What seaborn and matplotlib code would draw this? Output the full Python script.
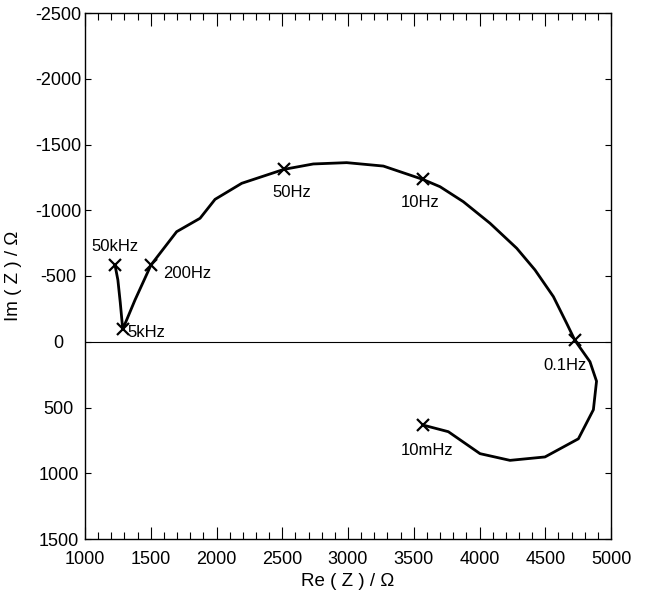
import matplotlib
matplotlib.use("Agg")
import matplotlib.pyplot as plt
import seaborn as sns
import pandas as pd
from matplotlib.ticker import MultipleLocator

# Impedance spectrum (Nyquist), from 50 kHz down to 10 mHz
re_z = [1228, 1250, 1268, 1287, 1380, 1502, 1697, 1875, 1989, 2192, 2513, 2736, 2990,
        3269, 3568, 3700, 3877, 4080, 4283, 4422, 4562, 4663, 4726, 4840, 4890,
        4866, 4752, 4498, 4232, 4004, 3763, 3568]
im_z = [-584, -470, -300, -95, -317, -584, -837, -939, -1083, -1205, -1311, -1352, -1362,
        -1336, -1235, -1179, -1065, -901, -711, -546, -343, -140, -10, 152, 300,
        517, 738, 876, 902, 851, 684, 633]

# Marked frequencies
mark_labels = ["50kHz", "5kHz", "200Hz", "50Hz", "10Hz", "0.1Hz", "10mHz"]
mark_re = [1228, 1287, 1502, 2513, 3568, 4726, 3568]
mark_im = [-584, -95, -584, -1311, -1235, -10, 633]

x_ticks = [1000, 1500, 2000, 2500, 3000, 3500, 4000, 4500, 5000]
y_ticks = [-2500, -2000, -1500, -1000, -500, 0, 500, 1000, 1500]

sns.set_style("ticks")
plt.rcParams["font.family"] = ["Liberation Sans", "DejaVu Sans"]
plt.rcParams["axes.unicode_minus"] = False
plt.rcParams["text.color"] = "black"
plt.rcParams["axes.labelcolor"] = "black"
plt.rcParams["xtick.color"] = "black"
plt.rcParams["ytick.color"] = "black"

fig = plt.figure(figsize=(6.47, 5.96), dpi=100)
ax = fig.add_axes([85 / 647, 1 - 539 / 596, 526 / 647, 526 / 596])

curve = pd.DataFrame({"re": re_z, "im": im_z})
marks = pd.DataFrame({"re": mark_re, "im": mark_im, "label": mark_labels})

ax.axhline(0, color="black", lw=0.8, zorder=1)
sns.lineplot(data=curve, x="re", y="im", sort=False, estimator=None,
             color="black", lw=2.0, ax=ax, zorder=3)
ax.plot(marks["re"], marks["im"], linestyle="none", marker="x",
        markersize=9, mew=1.6, color="black", zorder=4)

# label offsets in pixels (x right, y up), with alignment
offsets = {
    "50kHz": (0, 18, "center"),
    "5kHz": (5, -3, "left"),
    "200Hz": (12, -9, "left"),
    "50Hz": (8, -23, "center"),
    "10Hz": (-3, -23, "center"),
    "0.1Hz": (-10, -25, "center"),
    "10mHz": (4, -26, "center"),
}
for lab, xr, yi in zip(mark_labels, mark_re, mark_im):
    dx, dy, ha = offsets[lab]
    ax.annotate(lab, (xr, yi), xytext=(dx, dy), textcoords="offset pixels",
                ha=ha, va="center", fontsize=12, color="black")

ax.set_xlim(1000, 5000)
ax.set_ylim(1500, -2500)
ax.set_xticks(x_ticks)
ax.set_yticks(y_ticks)
ax.set_xticklabels([str(v) for v in x_ticks])
ax.set_yticklabels([str(v) for v in y_ticks])
ax.xaxis.set_minor_locator(MultipleLocator(100))

ax.tick_params(axis="x", which="major", direction="in", length=9, width=0.8,
               top=True, bottom=True, labelsize=13, pad=9)
ax.tick_params(axis="x", which="minor", direction="in", length=4.8, width=0.8,
               top=True, bottom=True)
ax.tick_params(axis="y", which="major", direction="in", length=4.5, width=0.8,
               left=True, right=True, labelsize=13, pad=19)
for t in ax.get_yticklabels():
    t.set_horizontalalignment("center")

for s in ax.spines.values():
    s.set_visible(True)
    s.set_linewidth(1.0)
    s.set_color("black")

ax.set_xlabel("Re ( Z ) / \u03a9", fontsize=13.5, labelpad=3)
ax.set_ylabel("Im ( Z ) / \u03a9", fontsize=13.5)
ax.yaxis.set_label_coords(-(85 - 22) / 526, 0.5)

fig.savefig("out.png", dpi=100)
